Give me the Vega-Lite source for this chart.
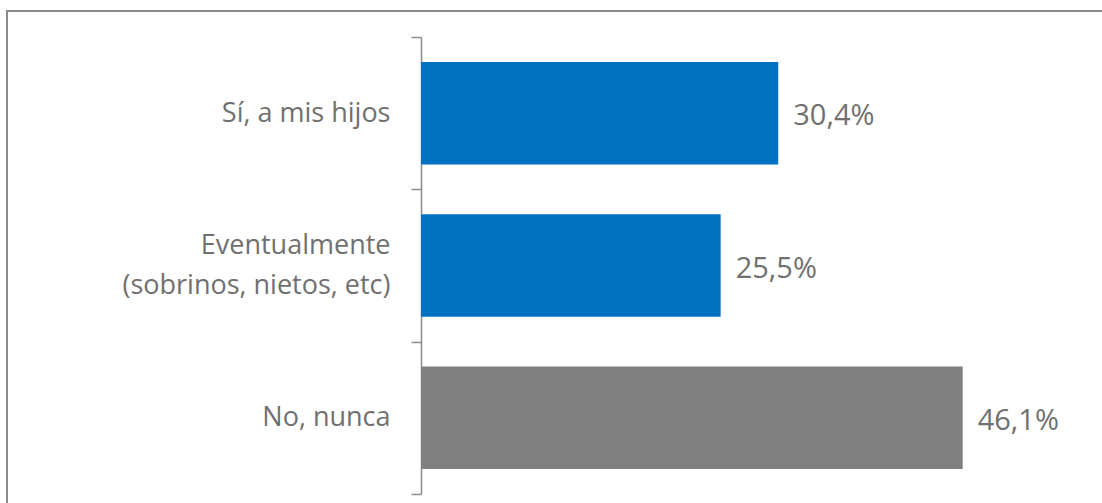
{
  "$schema": "https://vega.github.io/schema/vega-lite/v6.json",
  "autosize": "none",
  "padding": {"left": 7, "top": 11, "right": 0, "bottom": 0},
  "width": 1102,
  "height": 500,
  "background": "white",
  "config": {
    "view": {"stroke": "#8c8c8c", "strokeWidth": 2},
    "locale": {"number": {"decimal": ",", "thousands": ".", "grouping": [3], "currency": ["", " €"]}}
  },
  "data": {
    "values": [
      {"respuesta": "Sí, a mis hijos", "grupo": "Sí", "valor": 0.304},
      {"respuesta": "Eventualmente (sobrinos, nietos, etc)", "grupo": "Sí", "valor": 0.255},
      {"respuesta": "No, nunca", "grupo": "No", "valor": 0.461}
    ]
  },
  "encoding": {
    "y": {
      "field": "respuesta",
      "type": "nominal",
      "sort": null,
      "scale": {"range": [26, 483], "paddingInner": 0, "paddingOuter": 0},
      "axis": {
        "title": null,
        "offset": -414,
        "domainColor": "#8c8c8c",
        "domainWidth": 1.5,
        "tickColor": "#8c8c8c",
        "tickWidth": 1.5,
        "tickSize": 10,
        "tickBand": "extent",
        "labelPadding": 21,
        "labelLimit": 500,
        "labelFont": "Open Sans",
        "labelFontSize": 27,
        "labelColor": "#707070",
        "labelLineHeight": 40,
        "labelOffset": {"condition": {"test": "datum.label == 'Eventualmente (sobrinos, nietos, etc)'", "value": -20}, "value": 0},
        "labelExpr": "datum.label == 'Eventualmente (sobrinos, nietos, etc)' ? ['Eventualmente', '(sobrinos, nietos, etc)'] : datum.label"
      }
    },
    "x": {
      "field": "valor",
      "type": "quantitative",
      "scale": {"domain": [0, 0.5855], "range": [414, 1102]},
      "axis": null
    }
  },
  "layer": [
    {
      "mark": {"type": "bar", "height": {"band": 0.673}},
      "encoding": {
        "color": {
          "field": "grupo",
          "type": "nominal",
          "scale": {"domain": ["Sí", "No"], "range": ["#0070C0", "#808080"]},
          "legend": null
        }
      }
    },
    {
      "mark": {"type": "text", "align": "left", "baseline": "middle", "dx": 15, "dy": 3, "font": "Open Sans", "fontSize": 29, "color": "#707070"},
      "encoding": {
        "text": {"field": "valor", "type": "quantitative", "format": ".1%"}
      }
    }
  ]
}
